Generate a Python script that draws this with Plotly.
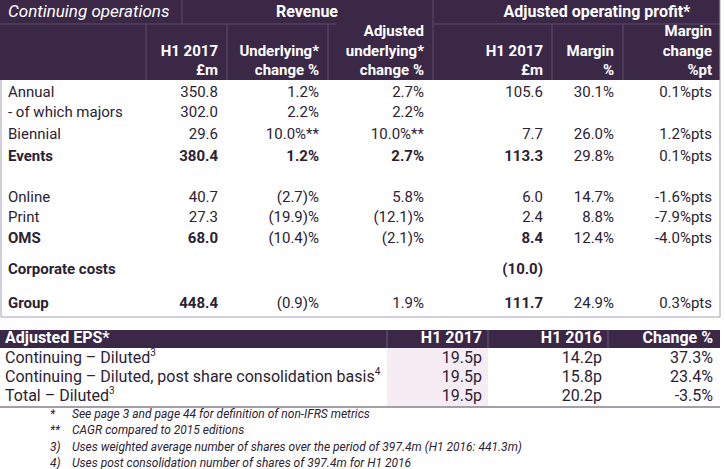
import plotly.graph_objects as go

# ---- data ----
segments = ["Annual", "- of which majors", "Biennial", "Events",
            "Online", "Print", "OMS", "Corporate costs", "Group"]
revenue = ["350.8", "302.0", "29.6", "380.4", "40.7", "27.3", "68.0", "", "448.4"]
underlying_chg = ["1.2%", "2.2%", "10.0%**", "1.2%", "(2.7)%", "(19.9)%", "(10.4)%", "", "(0.9)%"]
adj_underlying_chg = ["2.7%", "2.2%", "10.0%**", "2.7%", "5.8%", "(12.1)%", "(2.1)%", "", "1.9%"]
aop = ["105.6", "", "7.7", "113.3", "6.0", "2.4", "8.4", "(10.0)", "111.7"]
margin = ["30.1%", "", "26.0%", "29.8%", "14.7%", "8.8%", "12.4%", "", "24.9%"]
margin_chg = ["0.1%pts", "", "1.2%pts", "0.1%pts", "-1.6%pts", "-7.9%pts", "-4.0%pts", "", "0.3%pts"]

top_headers = ["H1 2017<br>£m", "Underlying*<br>change %", "Adjusted<br>underlying*<br>change %",
               "H1 2017<br>£m", "Margin<br>%", "Margin<br>change<br>%pt"]

eps_labels = ["Continuing – Diluted", "Continuing – Diluted, post share consolidation basis",
              "Total – Diluted"]
eps_notes = ["3", "4", "3"]
eps_h1_2017 = ["19.5p", "19.5p", "19.5p"]
eps_h1_2016 = ["14.2p", "15.8p", "20.2p"]
eps_change = ["37.3%", "23.4%", "-3.5%"]
eps_headers = ["H1 2017", "H1 2016", "Change %"]

note_marks = ["*", "**", "3)", "4)"]
note_texts = ["See page 3 and page 44 for definition of non-IFRS metrics",
              "CAGR compared to 2015 editions",
              "Uses weighted average number of shares over the period of 397.4m (H1 2016: 441.3m)",
              "Uses post consolidation number of shares of 397.4m for H1 2016"]

# ---- layout / style ----
PURPLE = "#3a2846"
INK = "#2b2233"
LINE = "#a99fb8"
PINK = "#f6ecf4"
FONT = "Roboto"

row_y = [93, 113, 135, 157, 198, 218, 239, 270, 304]
col_x = [218, 319, 424, 543, 614, 712]
bold_rows = {3, 6, 7, 8}
# which value columns are bold in bold rows
bold_cols = {3: {0, 1, 2, 3}, 6: {0, 3}, 7: {3}, 8: {0, 3}}

eps_row_y = [359, 378, 397]
eps_col_x = [482, 602, 713]
note_y = [415, 431, 448, 464]

fig = go.Figure()

shapes = []
# header background of top table
shapes.append(dict(type="rect", x0=0, x1=720, y0=0, y1=80, fillcolor=PURPLE, line_width=0, layer="below"))
# header divider lines
hdr_line = dict(color="#5d4d6c", width=1)
shapes.append(dict(type="line", x0=0, x1=336, y0=24, y1=24, line=hdr_line))
shapes.append(dict(type="line", x0=433, x1=720, y0=24, y1=24, line=hdr_line))
shapes.append(dict(type="line", x0=182, x1=182, y0=0, y1=24, line=hdr_line))
shapes.append(dict(type="line", x0=433, x1=433, y0=0, y1=80, line=hdr_line))
for xv in [146, 227, 328, 552, 623]:
    shapes.append(dict(type="line", x0=xv, x1=xv, y0=24, y1=80, line=hdr_line))
# top table border
shapes.append(dict(type="line", x0=1, x1=1, y0=80, y1=317, line=dict(color=LINE, width=1)))
shapes.append(dict(type="line", x0=720, x1=720, y0=0, y1=317, line=dict(color=LINE, width=1)))
shapes.append(dict(type="line", x0=1, x1=720, y0=317, y1=317, line=dict(color=LINE, width=1)))

# EPS table
shapes.append(dict(type="rect", x0=0, x1=720, y0=330, y1=348, fillcolor=PURPLE, line_width=0, layer="below"))
shapes.append(dict(type="rect", x0=387, x1=488, y0=348, y1=406, fillcolor=PINK, line_width=0, layer="below"))
for xv in [387, 488, 608]:
    shapes.append(dict(type="line", x0=xv, x1=xv, y0=330, y1=348, line=dict(color="#6b5c78", width=1)))
shapes.append(dict(type="line", x0=0, x1=720, y0=407, y1=407, line=dict(color="#4a3d57", width=1.2)))


def text_trace(xs, ys, texts, pos, size, color):
    keep = [(a, b, t) for a, b, t in zip(xs, ys, texts) if t]
    return go.Scatter(x=[k[0] for k in keep], y=[k[1] for k in keep], mode="text",
                      text=[k[2] for k in keep], textposition=pos,
                      textfont=dict(family=FONT, size=size, color=color), hoverinfo="skip")


# header row 1
fig.add_trace(text_trace([8], [13], ["<i>Continuing operations</i>"], "middle right", 17, "white"))
fig.add_trace(text_trace([307, 597], [13, 13], ["<b>Revenue</b>", "<b>Adjusted operating profit*</b>"],
                         "middle center", 16, "white"))

# header row 2 (bottom aligned)
hdr_y = [71 - 9.5 * h.count("<br>") for h in top_headers]
fig.add_trace(text_trace(col_x, hdr_y,
                         ["<b>" + h.replace("<br>", "</b><br><b>") + "</b>" for h in top_headers],
                         "middle left", 15, "white"))

# body labels
fig.add_trace(text_trace([8] * len(segments), row_y,
                         [f"<b>{s}</b>" if i in bold_rows else s for i, s in enumerate(segments)],
                         "middle right", 15, INK))

# body values
columns = [revenue, underlying_chg, adj_underlying_chg, aop, margin, margin_chg]
for c, vals in enumerate(columns):
    txt = [f"<b>{v}</b>" if v and c in bold_cols.get(i, set()) else v for i, v in enumerate(vals)]
    fig.add_trace(text_trace([col_x[c]] * len(vals), row_y, txt, "middle left", 15, INK))

# EPS header
fig.add_trace(text_trace([5], [339], ["<b>Adjusted EPS*</b>"], "middle right", 16, "white"))
fig.add_trace(text_trace(eps_col_x, [339] * 3, [f"<b>{h}</b>" for h in eps_headers],
                         "middle left", 16, "white"))

# EPS rows
eps_text = [f"{l}<sup><span style='font-size:10px'>{n}</span></sup>" for l, n in zip(eps_labels, eps_notes)]
fig.add_trace(text_trace([5] * 3, eps_row_y, eps_text, "middle right", 16, INK))
for c, vals in enumerate([eps_h1_2017, eps_h1_2016, eps_change]):
    fig.add_trace(text_trace([eps_col_x[c]] * 3, eps_row_y, vals, "middle left", 16, INK))

# footnotes
fig.add_trace(text_trace([50] * 4, note_y, [f"<i>{m}</i>" for m in note_marks], "middle right", 12, INK))
fig.add_trace(text_trace([72] * 4, note_y, [f"<i>{t}</i>" for t in note_texts], "middle right", 12, INK))

fig.update_layout(
    width=725, height=469,
    margin=dict(l=0, r=0, t=0, b=0),
    paper_bgcolor="white", plot_bgcolor="white",
    showlegend=False,
    shapes=shapes,
    xaxis=dict(range=[0, 725], visible=False, fixedrange=True),
    yaxis=dict(range=[469, 0], visible=False, fixedrange=True),
)

fig.write_html("out.html", config={"displayModeBar": False},
               post_script="document.body.style.margin='0px';")
